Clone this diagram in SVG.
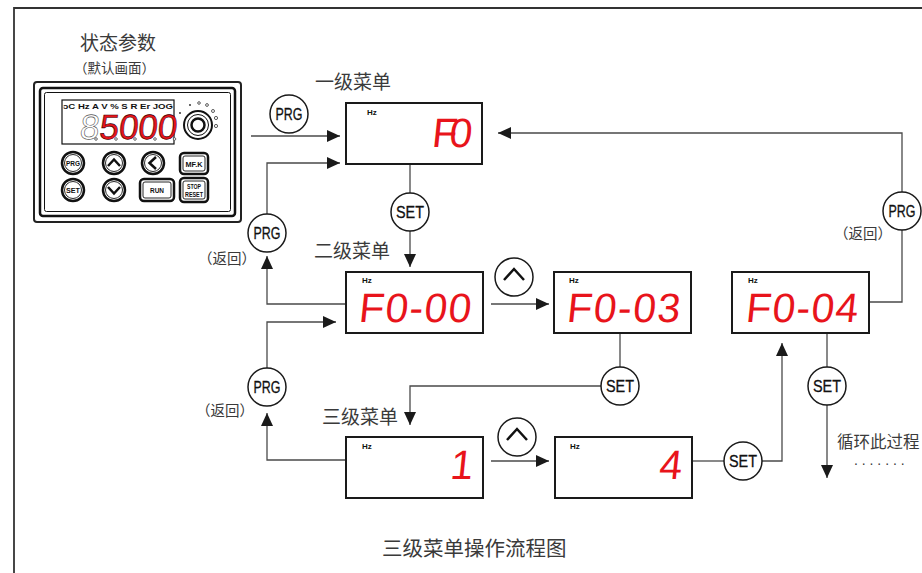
<svg xmlns="http://www.w3.org/2000/svg" width="922" height="573" viewBox="0 0 922 573">
<style>
.cn{font-family:"Noto Sans CJK SC","Noto Sans",sans-serif;fill:#3a3a3a}
.box{fill:#fff;stroke:#1a1a1a;stroke-width:2}
.btn{fill:#fff;stroke:#1a1a1a;stroke-width:1.5}
.bl{font-family:"Liberation Sans",Arial,sans-serif;font-size:16px;fill:#111;stroke:#111;stroke-width:0.3;text-anchor:middle}
.hz{font-family:"Liberation Sans",Arial,sans-serif;font-size:8px;font-weight:bold;fill:#111}
.led{font-family:"Liberation Sans",Arial,sans-serif;font-size:41px;fill:#e8141b}
.con{fill:none;stroke:#4a4a4a;stroke-width:1.3}
.chev{fill:none;stroke:#111;stroke-width:2.5;stroke-linejoin:miter}
.kb{fill:#fff;stroke:#111;stroke-width:2.5}
.kbi{fill:none;stroke:#111;stroke-width:0.9}
.kt{font-family:"Liberation Sans",Arial,sans-serif;font-weight:bold;fill:#111;text-anchor:middle}
.kd{font-family:"Liberation Sans",Arial,sans-serif;font-size:35px;fill:#e8141b;stroke:#3a0000;stroke-width:0.6}
</style>
<defs>
<marker id="ah" markerUnits="userSpaceOnUse" markerWidth="14" markerHeight="12" refX="13" refY="6" orient="auto"><path d="M0,0 L13,6 L0,12 z" fill="#1a1a1a"/></marker>
</defs>
<rect x="0" y="0" width="922" height="573" fill="#fff"/>
<path d="M14,573 V8 H922" fill="none" stroke="#333" stroke-width="1.8"/>

<g id="title-status">
<text class="cn" x="80" y="50" font-size="19">状态参数</text>
<text class="cn" x="74" y="73" font-size="13.5">（默认画面）</text>
</g>

<g id="keypad">
<rect x="34" y="82" width="207" height="140" rx="3" fill="#fff" stroke="#222" stroke-width="2"/>
<rect x="40" y="88" width="195" height="128" rx="3" fill="none" stroke="#111" stroke-width="2.5"/>
<rect x="44.5" y="92.5" width="186" height="119" rx="2" fill="none" stroke="#111" stroke-width="1"/>
<rect x="62" y="100" width="112" height="44" fill="#fff" stroke="#111" stroke-width="1.2"/>
<text class="hz" x="63" y="109" textLength="110" lengthAdjust="spacingAndGlyphs">ɔC Hz A V % S R Er JOG</text>
<text class="kd" x="79" y="139" transform="translate(14.6,0) skewX(-6)"><tspan fill="none" stroke="#555">8</tspan>5000</text>
<g fill="#fff" stroke="#444" stroke-width="0.8">
<circle cx="96" cy="139" r="1.3"/><circle cx="116" cy="139" r="1.3"/><circle cx="135" cy="139" r="1.3"/><circle cx="155" cy="139" r="1.3"/><circle cx="174.5" cy="139" r="1.3"/>
</g>
<circle cx="198" cy="125" r="14" fill="#fff" stroke="#111" stroke-width="2"/>
<circle cx="198" cy="125" r="10.5" fill="none" stroke="#111" stroke-width="1"/>
<circle cx="198" cy="125" r="6.5" fill="none" stroke="#111" stroke-width="2.5"/>
<g fill="#222"><circle cx="180" cy="113" r="0.9"/><circle cx="190" cy="105" r="0.9"/></g>
<g fill="#fff" stroke="#333" stroke-width="0.8"><circle cx="199" cy="103" r="1.3"/><circle cx="207" cy="105" r="1.4"/><circle cx="213" cy="111" r="1.5"/><circle cx="216" cy="118" r="1.6"/><circle cx="216" cy="126" r="1.6"/></g>
<circle class="kb" cx="73" cy="163" r="11"/><circle class="kbi" cx="73" cy="163" r="8.5"/>
<text class="kt" x="73" y="166" font-size="8" textLength="14" lengthAdjust="spacingAndGlyphs">PRG</text>
<circle class="kb" cx="73" cy="190" r="11"/><circle class="kbi" cx="73" cy="190" r="8.5"/>
<text class="kt" x="73" y="193" font-size="8" textLength="14" lengthAdjust="spacingAndGlyphs">SET</text>
<circle class="kb" cx="114" cy="163" r="11"/><circle class="kbi" cx="114" cy="163" r="8.5"/>
<polyline class="chev" stroke-width="2" points="108,166 114,159.5 120,166"/>
<circle class="kb" cx="114" cy="190" r="11"/><circle class="kbi" cx="114" cy="190" r="8.5"/>
<polyline class="chev" stroke-width="2" points="108,187 114,193.5 120,187"/>
<circle class="kb" cx="153" cy="163" r="11"/><circle class="kbi" cx="153" cy="163" r="8.5"/>
<polyline class="chev" stroke-width="2" points="156,157 149.5,163 156,169"/>
<rect class="kb" x="180" y="153" width="28" height="21" rx="4"/><rect class="kbi" x="183" y="156" width="22" height="15" rx="2"/>
<text class="kt" x="194" y="166.5" font-size="7.5" textLength="17" lengthAdjust="spacingAndGlyphs">MF.K</text>
<rect class="kb" x="140" y="179" width="34" height="22" rx="4"/><rect class="kbi" x="143" y="182" width="28" height="16" rx="2"/>
<text class="kt" x="157" y="193" font-size="7.5" textLength="14" lengthAdjust="spacingAndGlyphs">RUN</text>
<rect class="kb" x="180" y="178" width="28" height="24" rx="4"/><rect class="kbi" x="183" y="181" width="22" height="18" rx="2"/>
<text class="kt" x="194" y="189" font-size="7" textLength="14" lengthAdjust="spacingAndGlyphs">STOP</text>
<text class="kt" x="194" y="197" font-size="7" textLength="18" lengthAdjust="spacingAndGlyphs">RESET</text>
</g>

<g id="connectors">
<polyline class="con" points="251,136 340,136" marker-end="url(#ah)"/>
<polyline class="con" points="267,214 267,163 340,163" marker-end="url(#ah)"/>
<polyline class="con" points="346,304 267,304 267,256" marker-end="url(#ah)"/>
<polyline class="con" points="267,368 267,322 336,322" marker-end="url(#ah)"/>
<polyline class="con" points="346,460 267,460 267,413" marker-end="url(#ah)"/>
<polyline class="con" points="410,164 410,193"/>
<polyline class="con" points="410,231 410,267" marker-end="url(#ah)"/>
<polyline class="con" points="491,304 549,304" marker-end="url(#ah)"/>
<polyline class="con" points="620,333 620,367"/>
<polyline class="con" points="601,386 410,386 410,425" marker-end="url(#ah)"/>
<polyline class="con" points="491,461 549,461" marker-end="url(#ah)"/>
<polyline class="con" points="692,461 724,461"/>
<polyline class="con" points="762,461 782,461 782,343" marker-end="url(#ah)"/>
<polyline class="con" points="869,302 902,302 902,230"/>
<polyline class="con" points="902,192 902,133 498,133" marker-end="url(#ah)"/>
<polyline class="con" points="827,333 827,367"/>
<polyline class="con" points="827,405 827,478" marker-end="url(#ah)"/>
</g>

<g id="btn-prg-top"><circle class="btn" cx="289" cy="114" r="19"/><text class="bl" x="289" y="120" textLength="27" lengthAdjust="spacingAndGlyphs">PRG</text></g>
<g id="btn-prg-l1"><circle class="btn" cx="267" cy="233" r="19"/><text class="bl" x="267" y="239" textLength="27" lengthAdjust="spacingAndGlyphs">PRG</text></g>
<g id="btn-prg-l2"><circle class="btn" cx="267" cy="387" r="19"/><text class="bl" x="267" y="393" textLength="27" lengthAdjust="spacingAndGlyphs">PRG</text></g>
<g id="btn-prg-r"><circle class="btn" cx="902" cy="211" r="19"/><text class="bl" x="902" y="217" textLength="27" lengthAdjust="spacingAndGlyphs">PRG</text></g>
<g id="btn-set-1"><circle class="btn" cx="410" cy="212" r="19"/><text class="bl" x="410" y="218" textLength="28" lengthAdjust="spacingAndGlyphs">SET</text></g>
<g id="btn-set-2"><circle class="btn" cx="620" cy="386" r="19"/><text class="bl" x="620" y="392" textLength="28" lengthAdjust="spacingAndGlyphs">SET</text></g>
<g id="btn-set-3"><circle class="btn" cx="827" cy="386" r="19"/><text class="bl" x="827" y="392" textLength="28" lengthAdjust="spacingAndGlyphs">SET</text></g>
<g id="btn-set-4"><circle class="btn" cx="743" cy="461" r="19"/><text class="bl" x="743" y="467" textLength="28" lengthAdjust="spacingAndGlyphs">SET</text></g>
<g id="btn-up-1"><circle class="btn" cx="514" cy="277" r="19"/><polyline class="chev" points="504,280 514,269 524,280"/></g>
<g id="btn-up-2"><circle class="btn" cx="517" cy="437" r="19"/><polyline class="chev" points="507,440 517,429 527,440"/></g>

<g id="disp-f0"><rect class="box" x="346" y="103" width="136" height="61"/><text class="hz" x="367" y="115">Hz</text><text class="led" x="431" y="147" textLength="40" transform="translate(15.45,0) skewX(-6)">F0</text></g>
<g id="disp-f0-00"><rect class="box" x="346" y="272" width="137" height="61"/><text class="hz" x="362" y="283">Hz</text><text class="led" x="358" y="322" textLength="112" transform="translate(33.85,0) skewX(-6)">F0-00</text></g>
<g id="disp-f0-03"><rect class="box" x="554" y="272" width="137" height="61"/><text class="hz" x="569" y="283">Hz</text><text class="led" x="566" y="322" textLength="113" transform="translate(33.85,0) skewX(-6)">F0-03</text></g>
<g id="disp-f0-04"><rect class="box" x="732" y="272" width="137" height="61"/><text class="hz" x="748" y="283">Hz</text><text class="led" x="745" y="322" textLength="112" transform="translate(33.85,0) skewX(-6)">F0-04</text></g>
<g id="disp-1"><rect class="box" x="346" y="437" width="137" height="61"/><text class="hz" x="362" y="449">Hz</text><text class="led" x="472" y="479" text-anchor="end" transform="translate(50.3,0) skewX(-6)">1</text></g>
<g id="disp-4"><rect class="box" x="555" y="437" width="137" height="61"/><text class="hz" x="570" y="449">Hz</text><text class="led" x="681" y="479" text-anchor="end" transform="translate(50.3,0) skewX(-6)">4</text></g>

<g id="labels">
<text class="cn" x="315" y="89" font-size="19">一级菜单</text>
<text class="cn" x="314" y="258" font-size="19">二级菜单</text>
<text class="cn" x="322" y="424" font-size="19">三级菜单</text>
<text class="cn" x="198" y="264" font-size="14.5">（返回）</text>
<text class="cn" x="196" y="416" font-size="14.5">（返回）</text>
<text class="cn" x="834" y="239" font-size="14.5">（返回）</text>
<text class="cn" x="837" y="448" font-size="16.5">循环此过程</text>
<text x="854" y="465" font-family="Liberation Sans, Arial, sans-serif" font-size="14" fill="#3a3a3a" letter-spacing="3.9">.......</text>
<text class="cn" x="382" y="556" font-size="20.5">三级菜单操作流程图</text>
</g>
</svg>
